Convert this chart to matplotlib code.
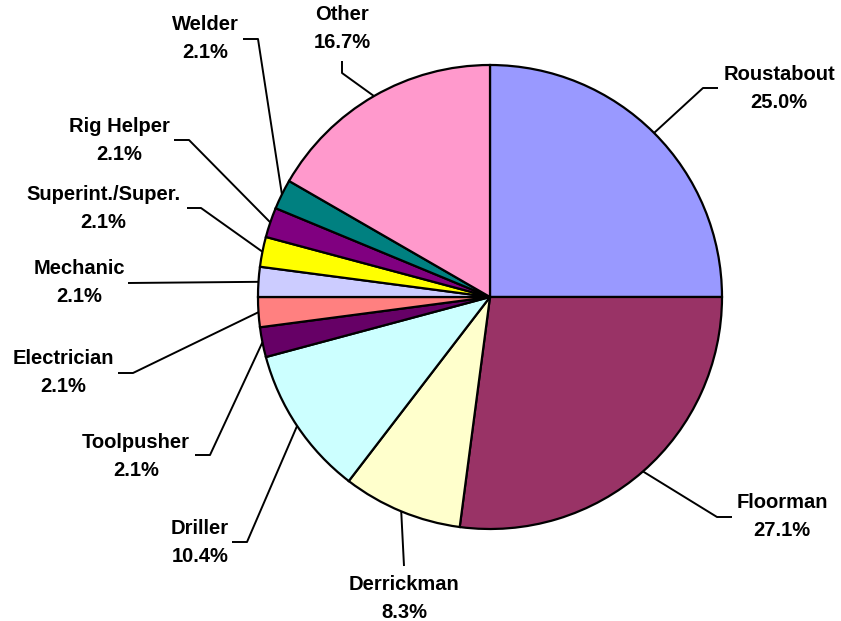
import numpy as np
import matplotlib
matplotlib.use("Agg")
import matplotlib.pyplot as plt

W, H = 841, 621

jobs = ["Roustabout", "Floorman", "Derrickman", "Driller", "Toolpusher",
        "Electrician", "Mechanic", "Superint./Super.", "Rig Helper",
        "Welder", "Other"]
counts = [12, 13, 4, 5, 1, 1, 1, 1, 1, 1, 8]
colors = ["#9999FF", "#993366", "#FFFFCC", "#CCFFFF", "#660066",
          "#FF8080", "#CCCCFF", "#FFFF00", "#800080", "#008080", "#FF99CC"]

# label layout in pixels (y down): elbow point, end of short segment, text centre
layout = [
    ((703, 88), (718, 88), (779, 88)),
    ((717, 517), (732, 517), (782, 517)),
    ((404, 566), (404, 566), (404, 598)),
    ((247, 542), (232, 542), (200, 542)),
    ((210, 455), (195, 455), (136, 456)),
    ((133, 373), (118, 373), (63, 373)),
    ((128, 283), (128, 283), (79, 282)),
    ((201, 208), (187, 208), (103, 208)),
    ((189, 140), (174, 140), (119, 140)),
    ((258, 39), (243, 39), (205, 38)),
    ((342, 73), (342, 61), (342, 29)),
]

cx, cy, r = 490, 297, 232


def px(x, y):
    return x, H - y


fig = plt.figure(figsize=(W / 100, H / 100), dpi=100)
ax = fig.add_axes([0, 0, 1, 1])

wedges, _ = ax.pie(counts, colors=colors, startangle=90, counterclock=False,
                   center=px(cx, cy), radius=r,
                   wedgeprops=dict(edgecolor="black", linewidth=1.6))
ax.set_xlim(0, W)
ax.set_ylim(0, H)
ax.set_aspect("equal")
ax.axis("off")

total = sum(counts)
for w, name, n, (elbow, hend, tpos) in zip(wedges, jobs, counts, layout):
    mid = np.deg2rad((w.theta1 + w.theta2) / 2)
    ex = w.center[0] + r * np.cos(mid)
    ey = w.center[1] + r * np.sin(mid)
    xs = [ex, px(*elbow)[0], px(*hend)[0]]
    ys = [ey, px(*elbow)[1], px(*hend)[1]]
    ax.plot(xs, ys, color="black", lw=1.4, solid_capstyle="butt")
    pct = 100 * n / total
    ax.text(*px(*tpos), f"{name}\n{pct:.1f}%", ha="center", va="center",
            multialignment="center", fontsize=14.5, fontweight="bold",
            family="Liberation Sans", linespacing=1.6)

fig.savefig("out.png", dpi=100)
